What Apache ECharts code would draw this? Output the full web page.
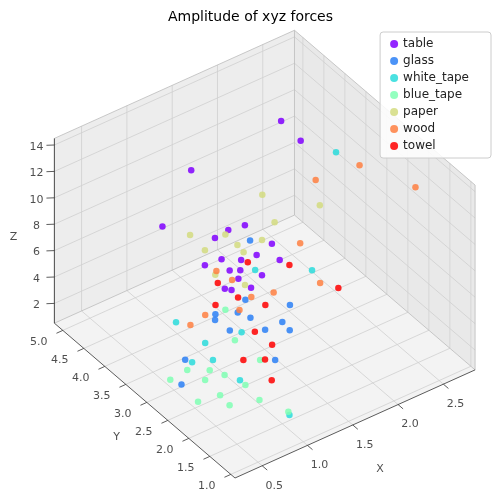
<!DOCTYPE html>
<html><head><meta charset="utf-8">
<script src="https://cdn.jsdelivr.net/npm/echarts@6/dist/echarts.min.js"></script>
<style>html,body{margin:0;padding:0;background:#fff}#c{width:501px;height:500px}</style>
</head><body><div id="c"></div>
<script>
const categories=['table','glass','white_tape','blue_tape','paper','wood','towel'];
const colors=['#8000ff','#2b80f6','#2adcdc','#80ffb4','#d4dc80','#ff8042','#ff0000'];
const xTicks=[0.5,1.0,1.5,2.0,2.5];
const yTicks=[1.0,1.5,2.0,2.5,3.0,3.5,4.0,4.5,5.0];
const zTicks=[2,4,6,8,10,12,14];
const table=[[0.85,4.03,9],[1.2,4.1,12],[2.13,3.5,13],[2.1,3.9,13.5],[1.41,3.67,8],[1.3,3.75,7.5],[1.57,3.34,6.5],[1.72,3.3,7],[1.38,3.32,6],[1.26,3.27,5],[1.11,3.58,6.5],[1.55,3.17,5.5],[1.57,3.62,8],[1.28,3.55,6.5],[1.42,3.15,5],[1.75,3.18,6],[1.3,3.4,6],[1.35,3.3,5.5],[1.45,3.45,6.2],[1.2,3.3,5.2]];
const glass=[[0.67,3.1,2],[0.49,2.8,1.5],[1.78,3.0,3],[1.62,2.66,2.5],[1.13,3.03,3],[1.39,2.75,3],[1.0,3.1,4],[1.33,2.97,3.5],[1.39,3.22,4],[1.58,2.75,3],[1.32,2.36,2],[1.59,3.54,7],[1.05,3.2,4],[1.25,3.1,3.8]];
const white_tape=[[2.4,3.24,12],[2.01,2.97,5],[0.81,3.62,3],[0.7,3.0,2],[1.07,1.48,1],[0.95,2.4,1.5],[0.9,3.12,2.5],[1.6,3.44,5],[0.87,2.87,2],[1.2,2.9,3]];
const blue_tape=[[0.45,2.98,1.5],[0.7,2.69,1.5],[0.68,2.29,1.5],[0.72,2.15,1],[0.95,2.27,1.5],[0.98,2.0,1],[1.09,1.55,1],[0.76,2.71,2],[1.14,2.93,2.5],[1.16,3.2,4],[1.21,2.48,2],[0.52,2.47,1],[0.6,2.9,2],[0.85,2.55,1.8]];
const paper=[[1.09,3.89,8],[1.73,3.55,10],[2.17,3.13,9],[1.81,3.43,8],[1.46,3.56,7],[1.18,3.73,7],[1.16,3.44,6],[1.68,3.45,7],[1.4,3.25,5],[1.35,3.61,8],[1.5,3.5,6.5]];
const wood=[[2.46,2.81,12],[2.79,2.19,11],[2.24,3.38,10],[1.93,3.08,7],[1.96,2.67,5],[0.97,3.27,4],[0.89,3.45,3],[1.26,3.08,4],[1.4,3.1,4.5],[1.35,3.45,5],[1.2,3.5,6],[1.6,3.0,4.5]];
const towel=[[2.05,2.43,5],[1.18,2.14,1.5],[1.09,2.62,2],[1.13,3.37,4],[1.49,2.96,4],[1.3,3.2,4.5],[1.25,2.45,2],[1.89,3.25,5],[1.37,2.54,2.5],[1.22,3.51,5],[1.5,3.4,6],[1.3,2.8,3]];
const seriesData=[table,glass,white_tape,blue_tape,paper,wood,towel];

const X0=0.2,X1=2.85,Y0=0.9,Y1=5.2,Z0=0.5,Z1=14.5;
const proj=(x,y,z)=>[235+90.6*(x-X0)-42*(y-Y0), 478-40.8*(x-X0)-36*(y-Y0)-13.2*(z-Z0)];

const items=[];
const poly=(pts,fill)=>items.push({t:'p',pts:pts.map(p=>proj(...p)),fill});
const line=(a,b,col,w)=>items.push({t:'l',pts:[proj(...a),proj(...b)],col,w});
poly([[X0,Y1,Z0],[X1,Y1,Z0],[X1,Y1,Z1],[X0,Y1,Z1]],'rgba(225,225,225,0.6)');
poly([[X1,Y0,Z0],[X1,Y1,Z0],[X1,Y1,Z1],[X1,Y0,Z1]],'rgba(218,218,218,0.6)');
poly([[X0,Y0,Z0],[X1,Y0,Z0],[X1,Y1,Z0],[X0,Y1,Z0]],'rgba(235,235,235,0.6)');
const g='#cfcfcf';
xTicks.forEach(x=>{line([x,Y0,Z0],[x,Y1,Z0],g,0.8);line([x,Y1,Z0],[x,Y1,Z1],g,0.8);});
yTicks.forEach(y=>{line([X0,y,Z0],[X1,y,Z0],g,0.8);line([X1,y,Z0],[X1,y,Z1],g,0.8);});
zTicks.forEach(z=>{line([X0,Y1,z],[X1,Y1,z],g,0.8);line([X1,Y0,z],[X1,Y1,z],g,0.8);});
const e='#bbbbbb';
line([X0,Y1,Z0],[X0,Y1,Z1],e,0.8);line([X0,Y1,Z1],[X1,Y1,Z1],e,0.8);line([X1,Y1,Z0],[X1,Y1,Z1],e,0.8);
line([X1,Y1,Z1],[X1,Y0,Z1],e,0.8);line([X1,Y0,Z0],[X1,Y0,Z1],e,0.8);line([X1,Y0,Z0],[X1,Y1,Z0],e,0.8);line([X0,Y1,Z0],[X1,Y1,Z0],e,0.8);
const k='#333';
line([X0,Y0,Z0],[X1,Y0,Z0],k,0.8);line([X0,Y0,Z0],[X0,Y1,Z0],k,0.8);line([X0,Y1,Z0],[X0,Y1,Z1],k,0.8);
xTicks.forEach(x=>line([x,Y0,Z0],[x,Y0-0.12,Z0],k,0.8));
yTicks.forEach(y=>line([X0,y,Z0],[X0-0.07,y,Z0],k,0.8));
zTicks.forEach(z=>line([X0,Y1,z],[X0-0.06,Y1+0.06,z],k,0.8));

const labels=[];
xTicks.forEach(x=>{const p=proj(x,Y0,Z0);labels.push({value:[p[0]+12,p[1]+20],name:x.toFixed(1)});});
yTicks.forEach(y=>{const p=proj(X0,y,Z0);labels.push({value:[p[0]-24,p[1]+12],name:y.toFixed(1)});});
zTicks.forEach(z=>{const p=proj(X0,Y1,z);labels.push({value:[p[0]-18,p[1]+2],name:String(z)});});
const px=proj((X0+X1)/2,Y0,Z0),py=proj(X0,(Y0+Y1)/2,Z0),pz=proj(X0,Y1,(Z0+Z1)/2);
labels.push({value:[px[0]+25,px[1]+45],name:'X'});
labels.push({value:[py[0]-28,py[1]+37],name:'Y'});
labels.push({value:[pz[0]-41,pz[1]+6],name:'Z'});

const series=[{type:'custom',silent:true,z:1,data:items.map((d,i)=>[i]),renderItem:(params,api)=>{
  const d=items[api.value(0)];const pts=d.pts.map(p=>api.coord(p));
  if(d.t==='p')return {type:'polygon',shape:{points:pts},style:{fill:d.fill}};
  return {type:'line',shape:{x1:pts[0][0],y1:pts[0][1],x2:pts[1][0],y2:pts[1][1]},style:{stroke:d.col,lineWidth:d.w}};
}},
{type:'scatter',silent:true,symbolSize:0,z:2,data:labels,label:{show:true,position:'inside',formatter:p=>p.name,fontSize:11,color:'#222',fontFamily:'DejaVu Sans'}}];
categories.forEach((c,i)=>series.push({name:c,type:'scatter',z:3,symbolSize:6.5,itemStyle:{color:colors[i],opacity:0.85},data:seriesData[i].map(p=>proj(...p))}));

const chart=echarts.init(document.getElementById('c'));
chart.setOption({animation:false,
 title:{text:'Amplitude of xyz forces',left:'center',top:5,textStyle:{fontSize:14,fontWeight:'normal',color:'#000',fontFamily:'DejaVu Sans'}},
 legend:{data:categories.map(c=>({name:c,icon:'circle'})),orient:'vertical',right:10,top:32,itemWidth:8,itemHeight:8,itemGap:5,
  backgroundColor:'rgba(255,255,255,0.85)',borderColor:'#ccc',borderWidth:1,borderRadius:3,padding:[6,22,6,10],
  textStyle:{fontSize:12,color:'#222',fontFamily:'DejaVu Sans'}},
 grid:{left:0,right:0,top:0,bottom:0},
 xAxis:{type:'value',min:0,max:501,show:false},
 yAxis:{type:'value',min:0,max:500,inverse:true,show:false},
 series});
</script></body></html>
